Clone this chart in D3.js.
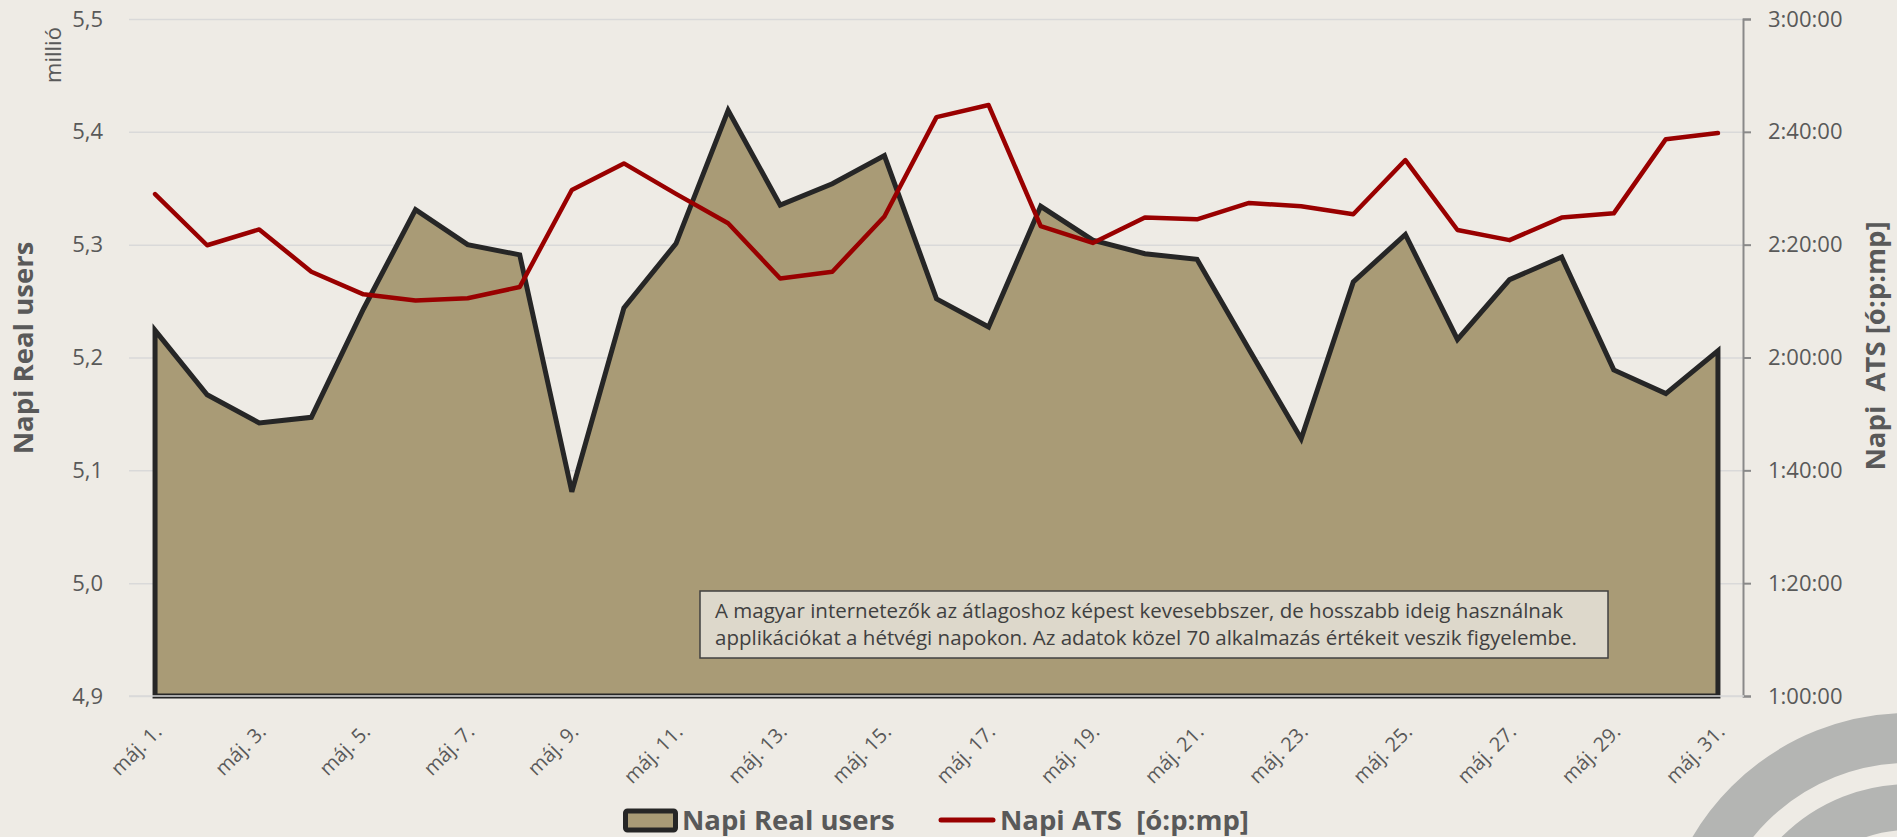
<!DOCTYPE html>
<html>
<head>
<meta charset="utf-8">
<script src="https://cdn.jsdelivr.net/npm/d3@7"></script>
<style>
  body { margin: 0; background: #eeebe5; }
  svg { display: block; font-family: "Open Sans", "Noto Sans", sans-serif; }
</style>
</head>
<body>
<svg id="chart"></svg>
<script>
// napok
var days = ["máj. 1.", "máj. 2.", "máj. 3.", "máj. 4.", "máj. 5.", "máj. 6.", "máj. 7.", "máj. 8.",
    "máj. 9.", "máj. 10.", "máj. 11.", "máj. 12.", "máj. 13.", "máj. 14.", "máj. 15.", "máj. 16.",
    "máj. 17.", "máj. 18.", "máj. 19.", "máj. 20.", "máj. 21.", "máj. 22.", "máj. 23.", "máj. 24.",
    "máj. 25.", "máj. 26.", "máj. 27.", "máj. 28.", "máj. 29.", "máj. 30.", "máj. 31."];

// Napi Real users, millió
var realUsers = [5.224, 5.167, 5.142, 5.147, 5.243, 5.331, 5.300, 5.291,
    5.081, 5.244, 5.301, 5.419, 5.335, 5.354, 5.379, 5.252,
    5.227, 5.334, 5.304, 5.292, 5.287, 5.207, 5.128, 5.267,
    5.309, 5.216, 5.269, 5.289, 5.189, 5.168, 5.206];

// Napi ATS [ó:p:mp]
var ats = ["2:28:58", "2:19:54", "2:22:42", "2:15:12", "2:11:12", "2:10:06", "2:10:30", "2:12:30",
    "2:29:42", "2:34:24", "2:29:00", "2:23:48", "2:14:00", "2:15:12", "2:25:00", "2:42:36",
    "2:44:45", "2:23:18", "2:20:18", "2:24:48", "2:24:30", "2:27:24", "2:26:48", "2:25:24",
    "2:35:00", "2:22:36", "2:20:48", "2:24:48", "2:25:33", "2:38:42", "2:39:48"];

var userTicks = [4.9, 5.0, 5.1, 5.2, 5.3, 5.4, 5.5];
var userTickLabels = ["4,9", "5,0", "5,1", "5,2", "5,3", "5,4", "5,5"];
var atsTicks = ["1:00:00", "1:20:00", "1:40:00", "2:00:00", "2:20:00", "2:40:00", "3:00:00"];

var note = ["A magyar internetezők az átlagoshoz képest kevesebbszer, de hosszabb ideig használnak",
    "applikációkat a hétvégi napokon. Az adatok közel 70 alkalmazás értékeit veszik figyelembe."];

function toMin(s) {
    var p = s.split(":");
    return +p[0] * 60 + +p[1] + +p[2] / 60;
}

var width = 1897, height = 837;
var plot = { left: 129, right: 1744, top: 19, bottom: 696 };

var svg = d3.select("#chart")
    .attr("width", width)
    .attr("height", height);

svg.append("rect").attr("width", width).attr("height", height).attr("fill", "#eeebe5");

// díszítő körök a jobb alsó sarokban
svg.append("g").selectAll("circle")
    .data([[226, 50], [157, 46]])
    .enter().append("circle")
    .attr("cx", 1909).attr("cy", 964)
    .attr("r", function (d) { return d[0]; })
    .attr("fill", "none")
    .attr("stroke", "#b4b5b3")
    .attr("stroke-width", function (d) { return d[1]; });

var x = d3.scaleBand().domain(days).range([plot.left, plot.right]);
var px = function (d) { return x(d) + x.bandwidth() / 2; };

var y = d3.scaleLinear().domain([4.9, 5.5]).range([plot.bottom, plot.top]);
var y2 = d3.scaleLinear().domain([60, 180]).range([plot.bottom, plot.top]);

// rácsvonalak
var grid = svg.append("g")
    .attr("transform", "translate(" + plot.left + ",0)")
    .call(d3.axisLeft(y).tickValues(userTicks).tickSize(-(plot.right - plot.left)).tickFormat(""));
grid.select(".domain").remove();
grid.selectAll("line").attr("stroke", "#d9d9d9").attr("stroke-width", 1.5);

// bal tengely
var yAxis = svg.append("g")
    .attr("transform", "translate(" + plot.left + ",0)")
    .call(d3.axisLeft(y).tickValues(userTicks)
        .tickFormat(function (d, i) { return userTickLabels[i]; })
        .tickSize(0).tickPadding(26))
    .attr("font-family", null);
yAxis.select(".domain").remove();
yAxis.selectAll("text").attr("fill", "#595959").style("font-size", "22px");

// jobb tengely
var y2Axis = svg.append("g")
    .attr("transform", "translate(1743,0)")
    .call(d3.axisRight(y2).tickValues(atsTicks.map(toMin))
        .tickFormat(function (d, i) { return atsTicks[i]; })
        .tickSize(8).tickSizeOuter(8).tickPadding(17))
    .attr("font-family", null);
y2Axis.select(".domain").attr("stroke", "#898989").attr("stroke-width", 2);
y2Axis.selectAll("line").attr("stroke", "#898989").attr("stroke-width", 2);
y2Axis.selectAll("text").attr("fill", "#595959").style("font-size", "22px");

// x tengely
var xAxis = svg.append("g")
    .attr("transform", "translate(0," + plot.bottom + ")")
    .call(d3.axisBottom(x).tickValues(days.filter(function (d, i) { return i % 2 === 0; })).tickSize(0))
    .attr("font-family", null);
xAxis.select(".domain").remove();
xAxis.selectAll("text")
    .attr("y", 0).attr("dy", 0)
    .attr("text-anchor", "end")
    .attr("transform", "translate(8,37) rotate(-45)")
    .attr("fill", "#595959")
    .style("font-size", "20px");

// terület: Napi Real users
var area = d3.area()
    .x(function (d, i) { return px(days[i]); })
    .y0(y(4.9))
    .y1(function (d) { return y(d); });

svg.append("path")
    .datum(realUsers)
    .attr("d", area)
    .attr("fill", "#a99b76")
    .attr("stroke", "#262626")
    .attr("stroke-width", 5);

svg.append("line")
    .attr("x1", plot.left).attr("x2", plot.right)
    .attr("y1", y(4.9)).attr("y2", y(4.9))
    .attr("stroke", "#d9d9d9").attr("stroke-width", 1.5);

// vonal: Napi ATS
var line = d3.line()
    .x(function (d, i) { return px(days[i]); })
    .y(function (d) { return y2(toMin(d)); });

svg.append("path")
    .datum(ats)
    .attr("d", line)
    .attr("fill", "none")
    .attr("stroke", "#990000")
    .attr("stroke-width", 4.5)
    .attr("stroke-linecap", "round")
    .attr("stroke-linejoin", "round");

// megjegyzés doboz
svg.append("rect")
    .attr("x", 700).attr("y", 591).attr("width", 908).attr("height", 67)
    .attr("fill", "#ddd8cb").attr("stroke", "#404040").attr("stroke-width", 1.5);
svg.append("g").selectAll("text")
    .data(note)
    .enter().append("text")
    .attr("x", 715)
    .attr("y", function (d, i) { return 618 + i * 27; })
    .attr("fill", "#404040")
    .style("font-size", "20.5px")
    .text(function (d) { return d; });

// tengelycímek
svg.append("text")
    .attr("transform", "translate(33,348) rotate(-90)")
    .attr("text-anchor", "middle")
    .attr("fill", "#595959")
    .style("font-size", "27.5px").style("font-weight", "bold")
    .text("Napi Real users");

svg.append("text")
    .attr("transform", "translate(1885,346) rotate(-90)")
    .attr("text-anchor", "middle")
    .attr("fill", "#595959")
    .style("font-size", "27.5px").style("font-weight", "bold")
    .style("white-space", "pre")
    .text("Napi  ATS [ó:p:mp]");

svg.append("text")
    .attr("transform", "translate(61,55) rotate(-90)")
    .attr("text-anchor", "middle")
    .attr("fill", "#595959")
    .style("font-size", "22px")
    .text("millió");

// jelmagyarázat
svg.append("rect")
    .attr("x", 625.5).attr("y", 811).attr("width", 50).attr("height", 19).attr("rx", 2)
    .attr("fill", "#a99b76").attr("stroke", "#262626").attr("stroke-width", 5);
svg.append("text")
    .attr("x", 682).attr("y", 830)
    .attr("fill", "#595959")
    .style("font-size", "27.5px").style("font-weight", "bold")
    .text("Napi Real users");

svg.append("line")
    .attr("x1", 941).attr("x2", 993).attr("y1", 820).attr("y2", 820)
    .attr("stroke", "#990000").attr("stroke-width", 5).attr("stroke-linecap", "round");
svg.append("text")
    .attr("x", 1000).attr("y", 830)
    .attr("fill", "#595959")
    .style("font-size", "27.5px").style("font-weight", "bold")
    .style("white-space", "pre")
    .text("Napi ATS  [ó:p:mp]");
</script>
</body>
</html>
